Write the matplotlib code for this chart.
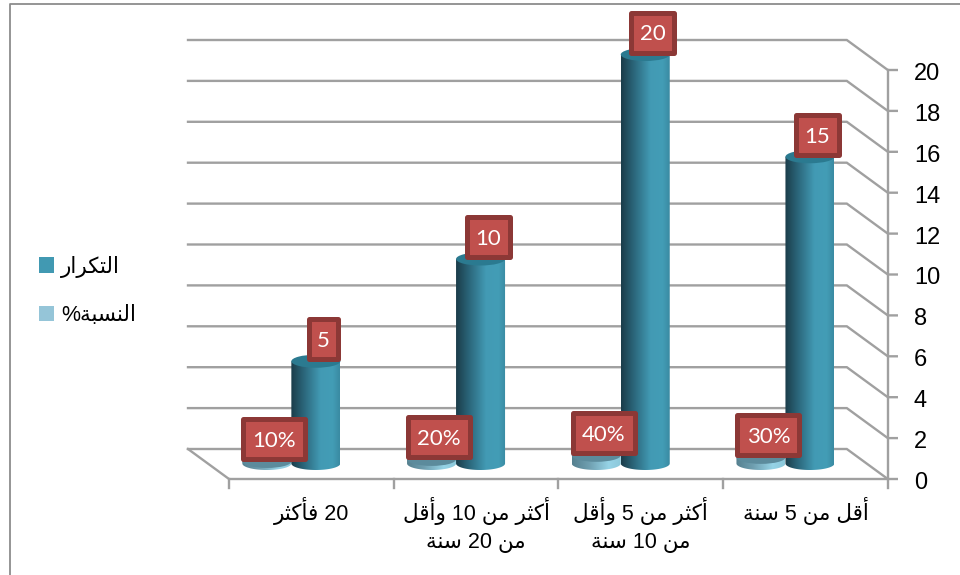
import re
import numpy as np
import matplotlib
matplotlib.use("Agg")
import matplotlib.pyplot as plt
from matplotlib.colors import LinearSegmentedColormap
from matplotlib.patches import Ellipse, Patch, Polygon, Rectangle

# ---------- data ----------
categories = ["20 فأكثر", "أكثر من 10 وأقل\nمن 20 سنة", "أكثر من 5 وأقل\nمن 10 سنة", "أقل من 5 سنة"]
freq_values = [5, 10, 20, 15]
pct_values = [0.10, 0.20, 0.40, 0.30]
pct_labels = ["10%", "20%", "40%", "30%"]
series_names = ["التكرار", "النسبة%"]
y_ticks = list(range(0, 21, 2))

# ---------- Arabic shaping (matplotlib has no shaper) ----------
FORMS = {
    "ا": (0xFE8D, 0xFE8E), "أ": (0xFE83, 0xFE84), "ر": (0xFEAD, 0xFEAE),
    "و": (0xFEED, 0xFEEE), "ة": (0xFE93, 0xFE94),
    "ب": (0xFE8F, 0xFE90, 0xFE91, 0xFE92), "ت": (0xFE95, 0xFE96, 0xFE97, 0xFE98),
    "ث": (0xFE99, 0xFE9A, 0xFE9B, 0xFE9C), "س": (0xFEB1, 0xFEB2, 0xFEB3, 0xFEB4),
    "ف": (0xFED1, 0xFED2, 0xFED3, 0xFED4), "ق": (0xFED5, 0xFED6, 0xFED7, 0xFED8),
    "ك": (0xFED9, 0xFEDA, 0xFEDB, 0xFEDC), "ل": (0xFEDD, 0xFEDE, 0xFEDF, 0xFEE0),
    "م": (0xFEE1, 0xFEE2, 0xFEE3, 0xFEE4), "ن": (0xFEE5, 0xFEE6, 0xFEE7, 0xFEE8),
}


def shape_line(s):
    out = []
    for i, c in enumerate(s):
        if c not in FORMS:
            out.append(c)
            continue
        f = FORMS[c]
        prev_joins = i > 0 and s[i - 1] in FORMS and len(FORMS[s[i - 1]]) == 4
        next_joins = i + 1 < len(s) and s[i + 1] in FORMS and len(f) == 4
        if prev_joins and next_joins:
            out.append(chr(f[3]))
        elif next_joins:
            out.append(chr(f[2]))
        elif prev_joins:
            out.append(chr(f[1]))
        else:
            out.append(chr(f[0]))
    vis = "".join(out)[::-1]
    return re.sub(r"\d+", lambda m: m.group(0)[::-1], vis)


def shape(s):
    return "\n".join(shape_line(x) for x in s.split("\n"))


# ---------- layout ----------
W, H = 960, 575
X0, UX = 229.0, 164.7   # pixel of x=0, pixels per category
Y0, UY = 479.0, 20.45   # pixel of y=0, pixels per value unit
px = lambda v: v / UX
py = lambda v: v / UY
DX, DY = px(-41), py(30)          # depth offset of the back wall
MX, MY = px(-20), py(15.5)        # depth offset of the bars
BW = px(24.5)                     # half bar width
EH = py(6.5)                      # half ellipse height
GRID = "#a0a0a0"
AR = ["Liberation Sans", "DejaVu Sans"]

fig = plt.figure(figsize=(W / 100, H / 100), dpi=100)
ax = fig.add_axes([0, 0, 1, 1])
XLIM = (-X0 / UX, (W - X0) / UX)
YLIM = ((Y0 - H) / UY, Y0 / UY)
ax.axis("off")

n = len(categories)
# gridlines: back wall + side wall
for t in y_ticks:
    ax.plot([DX, n + DX, n, n + px(9)], [t + DY, t + DY, t, t], color=GRID, lw=1.7, zorder=1,
            solid_joinstyle="miter")
    ax.text(n + px(26), t + py(-1.5), str(t), family=AR, fontsize=17, ha="left", va="center_baseline",
            color="black")
# floor and axes
ax.plot([DX, 0, n], [DY, 0, 0], color=GRID, lw=1.7, zorder=1)
ax.plot([n, n], [0, y_ticks[-1]], color=GRID, lw=1.7, zorder=1)
for i in range(n + 1):
    ax.plot([i, i], [0, py(-9)], color=GRID, lw=1.7, zorder=1)

freq_cmap = LinearSegmentedColormap.from_list(
    "f", [(0, "#1b3c49"), (0.25, "#2a6478"), (0.6, "#429ab4"), (0.85, "#439db6"), (1, "#3a8aa2")])
pct_cmap = LinearSegmentedColormap.from_list(
    "p", [(0, "#55808f"), (0.35, "#6f9fb0"), (0.75, "#96d3e6"), (1, "#8cc8da")])


def cylinder(xc, value, cmap, top_color, z):
    base = MY
    top = MY + value
    t = np.linspace(np.pi, 2 * np.pi, 40)
    bx = xc + BW * np.cos(t)
    by = base + EH * np.sin(t)
    verts = np.vstack([np.c_[bx, by], [[xc + BW, top], [xc - BW, top]]])
    poly = Polygon(verts, closed=True, transform=ax.transData, fc="none", ec="none")
    ax.add_patch(poly)
    im = ax.imshow(np.linspace(0, 1, 256)[None, :], cmap=cmap, aspect="auto",
                   extent=(xc - BW, xc + BW, base - EH, top), zorder=z, interpolation="bilinear")
    im.set_clip_path(poly)
    ax.add_patch(Ellipse((xc, top), 2 * BW, 2 * EH, fc=top_color, ec="none", zorder=z + 0.1))


def label_box(xc, value, text, width_px):
    cx = xc + px(7.5)
    cy = MY + value + py(22)
    w, h = px(width_px - 5), py(40)
    ax.add_patch(Rectangle((cx - w / 2, cy - h / 2), w, h, fc="#c0504d", ec="#8c3836",
                           lw=3.6, joinstyle="round", zorder=10))
    ax.text(cx, cy, text, family="Lato", fontsize=16, color="white", ha="center",
            va="center_baseline", zorder=11)


for i in range(n):
    xc = i + 0.5 + MX
    cylinder(xc - BW, pct_values[i], pct_cmap, "#5c8b9c", 3)
    cylinder(xc + BW, freq_values[i], freq_cmap, "#2b7a90", 4)
    label_box(xc - BW, pct_values[i], pct_labels[i], 67)
    label_box(xc + BW, freq_values[i], str(freq_values[i]), 34 if freq_values[i] < 10 else 48)
    ax.text(i + 0.5, py(-18), shape(categories[i]), family=AR, fontsize=15.5, ha="center", va="top",
            linespacing=1.42, color="black")

ax.set_xlim(XLIM)
ax.set_ylim(YLIM)

# chart frame (top and left only are visible in the crop)
fx, fy = px(10) + XLIM[0], YLIM[1] - py(3.5)
ax.plot([fx, fx, XLIM[1]], [YLIM[0], fy, fy], color="#8c8c8c", lw=1.3, zorder=1)

handles = [Patch(fc="#4199b2", ec="none"), Patch(fc="#95c5d8", ec="none")]
leg = ax.legend(handles, [shape(s) for s in series_names], loc="center left",
                bbox_to_anchor=(39 / W, 1 - 291 / H), frameon=False, handlelength=0.7,
                handleheight=0.7, handletextpad=0.33, labelspacing=1.3, borderpad=0, borderaxespad=0,
                prop={"family": AR, "size": 15.5})

fig.savefig("out.png", dpi=100)
